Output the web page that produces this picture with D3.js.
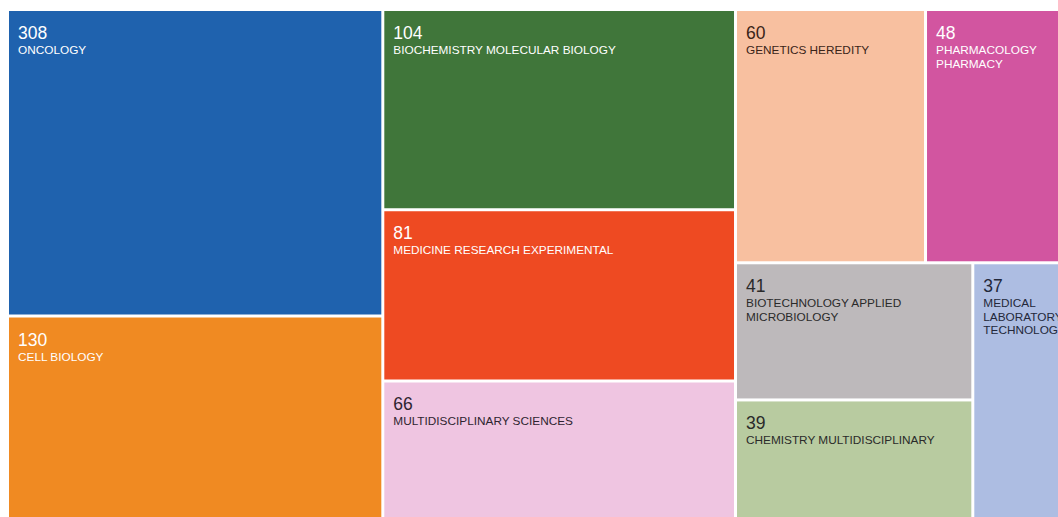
<!DOCTYPE html>
<html>
<head>
<meta charset="utf-8">
<script src="https://cdn.jsdelivr.net/npm/d3@7"></script>
<style>
  html, body { margin: 0; padding: 0; background: #ffffff; }
  svg { display: block; overflow: hidden; }
  text { font-family: "Liberation Sans", Arial, Helvetica, sans-serif; }
</style>
</head>
<body>
<svg id="chart" width="1058" height="517"></svg>
<script>
// Web of Science categories and record counts
const categories = [
  "ONCOLOGY",
  "CELL BIOLOGY",
  "BIOCHEMISTRY MOLECULAR BIOLOGY",
  "MEDICINE RESEARCH EXPERIMENTAL",
  "MULTIDISCIPLINARY SCIENCES",
  "GENETICS HEREDITY",
  "PHARMACOLOGY PHARMACY",
  "BIOTECHNOLOGY APPLIED MICROBIOLOGY",
  "CHEMISTRY MULTIDISCIPLINARY",
  "MEDICAL LABORATORY TECHNOLOGY"
];
const counts = [308, 130, 104, 81, 66, 60, 48, 41, 39, 37];

// Tile colours and label colours, one per category
const fills = ["#1f62ae", "#f08a22", "#40763a", "#ee4a22", "#efc5e1",
               "#f8c0a0", "#d255a0", "#bdb9bb", "#b8cba0", "#adbde2"];
const inks  = ["#ffffff", "#ffffff", "#ffffff", "#ffffff", "#2e2430",
               "#3a2418", "#ffffff", "#2a2a2a", "#2a2a2a", "#23283a"];

// Nesting of the tiles: "dice" splits left-to-right, "slice" top-to-bottom;
// numbers are indices into the arrays above.
const nesting = ["dice",
  ["slice", 0, 1],
  ["slice", 2, 3, 4],
  ["slice", ["dice", 5, 6], ["dice", ["slice", 7, 8], 9]]
];

const svg = d3.select("#chart");
const origin = [9, 11];
const size = [1069, 516];

function build(spec) {
  if (typeof spec === "number") {
    return { name: categories[spec], count: counts[spec], fill: fills[spec], ink: inks[spec] };
  }
  const [dir, ...rest] = spec;
  return { dir, children: rest.map(build) };
}

// Tile area follows a log scale whose zero sits at half the smallest count
const floor = d3.min(counts) / 2;
const weight = d3.scaleLog().domain([floor, floor * Math.E]).range([0, 1]);

const root = d3.hierarchy(build(nesting))
  .sum(d => d.children ? 0 : weight(d.count));

d3.treemap()
  .size(size)
  .paddingInner(3)
  .round(false)
  .tile((node, x0, y0, x1, y1) =>
    (node.data.dir === "dice" ? d3.treemapDice : d3.treemapSlice)(node, x0, y0, x1, y1))(root);

const g = svg.append("g").attr("transform", `translate(${origin[0]},${origin[1]})`);

const cell = g.selectAll("g.cell")
  .data(root.leaves())
  .join("g")
  .attr("class", "cell")
  .attr("transform", d => `translate(${d.x0},${d.y0})`);

cell.append("rect")
  .attr("width", d => d.x1 - d.x0)
  .attr("height", d => d.y1 - d.y0)
  .attr("fill", d => d.data.fill);

cell.append("text")
  .attr("x", 9)
  .attr("y", 28)
  .attr("fill", d => d.data.ink)
  .style("font-size", "17.5px")
  .text(d => d.data.count);

// Category name, wrapped to the tile width
cell.each(function (d) {
  const maxW = (d.x1 - d.x0) - 18;
  const t = d3.select(this).append("text")
    .attr("x", 9)
    .attr("y", 43)
    .attr("fill", d.data.ink)
    .style("font-size", "11.8px");
  const words = d.data.name.split(" ");
  let line = [];
  let tspan = t.append("tspan").attr("x", 9).attr("dy", 0);
  words.forEach(w => {
    line.push(w);
    tspan.text(line.join(" "));
    if (tspan.node().getComputedTextLength() > maxW && line.length > 1) {
      line.pop();
      tspan.text(line.join(" "));
      line = [w];
      tspan = t.append("tspan").attr("x", 9).attr("dy", 13.5).text(w);
    }
  });
});
</script>
</body>
</html>
